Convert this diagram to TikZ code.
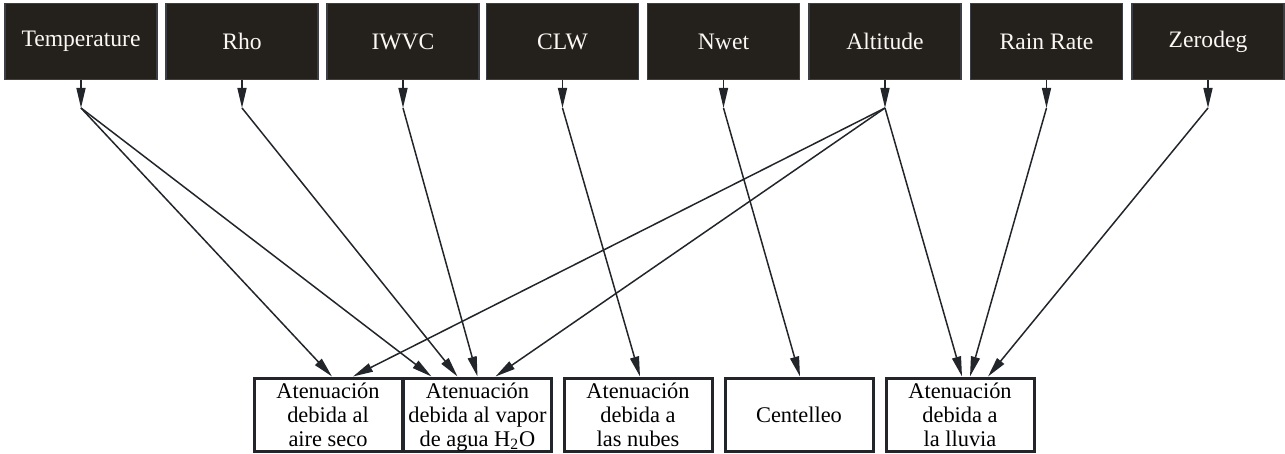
\documentclass[tikz,border=0pt]{standalone}
\usepackage{xcolor}
\usepackage{fontspec}
\setmainfont{Liberation Serif}
\usetikzlibrary{arrows.meta}
\definecolor{VarFill}{HTML}{24201c}
\definecolor{VarLine}{HTML}{3c4046}
\definecolor{EdgeCol}{HTML}{22262b}

\tikzset{
  varbox/.style={draw=VarLine, line width=0.6pt, fill=VarFill, text=white!94!brown,
    minimum width=76pt, minimum height=38pt, inner sep=0pt, font=\fontsize{11.8}{12}\selectfont},
  effbox/.style={draw=EdgeCol, line width=1.5pt, fill=white, align=center,
    minimum width=74pt, minimum height=36.5pt, inner sep=0pt, font=\fontsize{11.2}{12}\selectfont},
  link/.style={draw=EdgeCol, line width=0.75pt, -{Triangle[length=10pt,width=4.5pt]}}
}

\begin{document}
\begin{tikzpicture}[x=0.5pt, y=-0.5pt]%
\useasboundingbox (0,0) rectangle (1285,454);%
% input variables
\node[varbox] (temp) at (81,41.5) {Temperature};%
\node[varbox] (rho) at (242,41.5) {Rho};%
\node[varbox] (iwvc) at (403,41.5) {IWVC};%
\node[varbox] (clw) at (562.5,41.5) {CLW};%
\node[varbox] (nwet) at (723.5,41.5) {Nwet};%
\node[varbox] (alt) at (885,41.5) {Altitude};%
\node[varbox] (rain) at (1046.5,41.5) {Rain Rate};%
\node[varbox] (zero) at (1208,41.5) {Zerodeg};%
% junction points below each variable
\coordinate (temp-j) at (81,108);%
\coordinate (rho-j) at (242,108);%
\coordinate (iwvc-j) at (403,108);%
\coordinate (clw-j) at (562.5,108);%
\coordinate (nwet-j) at (723.5,108);%
\coordinate (alt-j) at (885,108);%
\coordinate (rain-j) at (1046.5,108);%
\coordinate (zero-j) at (1208,108);%
% effects
\node[effbox] (dry) at (328,414.5) {Atenuación\\debida al\\aire seco};%
\node[effbox] (vap) at (477.5,414.5) {Atenuación\\debida al vapor\\\smash{de agua H\textsubscript{2}O}};%
\node[effbox] (cloud) at (638,414.5) {Atenuación\\debida a\\las nubes};%
\node[effbox] (scint) at (799,414.5) {Centelleo};%
\node[effbox] (rainatt) at (960,414.5) {Atenuación\\debida a\\la lluvia};%
% stubs
\draw[link] (temp) -- (temp-j);%
\draw[link] (rho) -- (rho-j);%
\draw[link] (iwvc) -- (iwvc-j);%
\draw[link] (clw) -- (clw-j);%
\draw[link] (nwet) -- (nwet-j);%
\draw[link] (alt) -- (alt-j);%
\draw[link] (rain) -- (rain-j);%
\draw[link] (zero) -- (zero-j);%
% dependencies
\draw[link] (temp-j) -- ([xshift=2pt]dry.north);%
\draw[link] (alt-j) -- ([xshift=12.5pt]dry.north);%
\draw[link] (temp-j) -- ([xshift=-23pt]vap.north);%
\draw[link] (rho-j) -- ([xshift=-10pt]vap.north);%
\draw[link] (iwvc-j) -- ([xshift=0pt]vap.north);%
\draw[link] (alt-j) -- ([xshift=9pt]vap.north);%
\draw[link] (clw-j) -- ([xshift=1pt]cloud.north);%
\draw[link] (nwet-j) -- ([xshift=0.5pt]scint.north);%
\draw[link] (alt-j) -- ([xshift=1pt]rainatt.north);%
\draw[link] (rain-j) -- ([xshift=5pt]rainatt.north);%
\draw[link] (zero-j) -- ([xshift=14pt]rainatt.north);%
\end{tikzpicture}
\end{document}
